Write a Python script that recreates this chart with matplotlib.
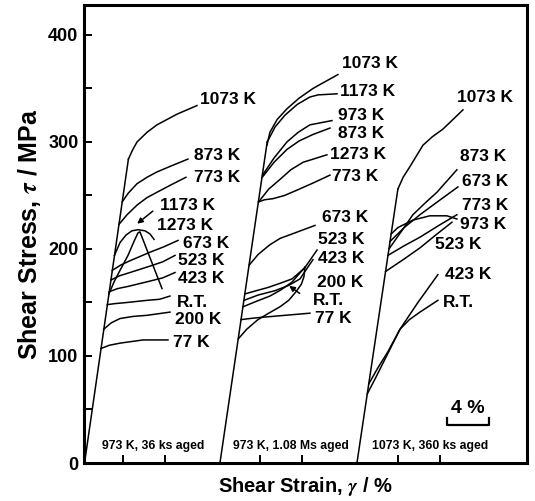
import matplotlib
matplotlib.use('Agg')
import matplotlib.pyplot as plt
from matplotlib.ticker import MultipleLocator

plt.rcParams['font.family'] = ['Liberation Sans', 'DejaVu Sans']
plt.rcParams['font.weight'] = 'bold'
plt.rcParams['mathtext.fontset'] = 'stix'

# ---- group 1: 973 K, 36 ks aged (strain %, stress MPa) ----
g1_elastic_strain = [0.05, 4.23]
g1_elastic_stress = [0, 284]
g1_labels = ['1073 K', '873 K', '773 K', '', '', '673 K', '523 K', '423 K', 'R.T.', '200 K', '77 K']
g1_strain = [
    [4.23, 4.6, 5.05, 6.0, 6.95, 8.86, 10.76],
    [3.64, 4.2, 5.05, 6.0, 6.95, 8.4, 9.9],
    [3.33, 4.1, 5.05, 6.0, 6.95, 8.3, 9.71],
    [2.9, 3.43, 4.0, 4.57, 5.14, 5.81, 6.29, 6.67],
    [2.37, 2.9, 3.43, 4.19, 4.76, 5.14, 5.33, 7.43],
    [2.69, 3.5, 4.38, 6.29, 7.6, 8.95],
    [2.56, 3.4, 4.38, 6.29, 7.5, 8.67],
    [2.4, 3.2, 4.19, 6.29, 7.5, 8.67],
    [2.22, 3.0, 4.1, 6.0, 7.2, 8.19],
    [1.88, 2.6, 3.43, 4.7, 6.0, 8.19],
    [1.62, 2.4, 3.43, 5.62, 8.0],
]
g1_stress = [
    [284, 292, 300, 309, 316, 326, 334],
    [244, 252, 261, 267, 272, 278, 284],
    [223, 232, 241, 248, 253, 260, 267],
    [194, 206, 213, 217, 218, 217, 214, 209],
    [158, 170, 180, 194, 207, 215, 216, 163],
    [180, 185, 189, 197, 202, 208],
    [171, 175, 178, 184, 188, 194],
    [160, 163, 165, 170, 173, 178],
    [148, 149, 150, 152, 153, 156],
    [125, 131, 135, 137, 138, 141],
    [107, 110, 112, 115, 115],
]
g1_label_x = [11.05, 10.48, 10.48, 0, 0, 9.43, 8.95, 8.95, 8.86, 8.67, 8.48]
g1_label_y = [340, 287, 267, 0, 0, 205, 189, 172, 150, 134, 113]

# ---- group 2: 973 K, 1.08 Ms aged ----
g2_elastic_strain = [12.95, 17.45]
g2_elastic_stress = [0, 300]
g2_labels = ['1073 K', '1173 K', '973 K', '873 K', '1273 K', '773 K',
             '673 K', '523 K', '423 K', '200 K', '', '77 K']
g2_strain = [
    [17.43, 17.71, 18.4, 19.33, 20.5, 21.81, 24.19],
    [17.45, 18.2, 19.14, 20.3, 21.52, 22.29, 24.1],
    [17.01, 18.1, 19.33, 20.4, 21.52, 23.62],
    [16.98, 18.1, 19.33, 20.5, 21.81, 23.43],
    [16.63, 17.6, 18.67, 19.7, 20.86, 23.14],
    [16.63, 17.2, 18.0, 19.1, 20.29, 21.9, 23.43],
    [15.74, 16.6, 17.71, 18.7, 19.81, 22.0],
    [15.33, 16.4, 17.52, 18.7, 19.81, 21.0, 22.2],
    [15.24, 16.6, 18.19, 19.5, 20.57, 21.81],
    [15.15, 16.4, 17.71, 18.8, 19.81, 21.05],
    [14.7, 15.5, 16.57, 17.6, 18.67, 19.5, 20.19, 20.7, 20.95, 21.05],
    [14.97, 15.8, 16.76, 19.14, 21.52],
]
g2_stress = [
    [297, 309, 321, 331, 341, 350, 363],
    [300, 314, 325, 335, 342, 344, 345],
    [269, 285, 300, 309, 316, 320],
    [267, 281, 293, 301, 307, 313],
    [244, 256, 265, 274, 281, 288],
    [244, 246, 247, 250, 255, 262, 269],
    [185, 195, 204, 210, 214, 222],
    [158, 161, 164, 168, 172, 182, 199],
    [152, 157, 161, 166, 172, 190],
    [146, 151, 156, 162, 169, 183],
    [116, 125, 134, 140, 146, 152, 160, 167, 174, 183],
    [134, 135, 136, 138, 140],
]
g2_label_x = [24.57, 24.38, 24.19, 24.19, 23.43, 23.6, 22.67, 22.29, 22.29, 22.19, 0, 22.0]
g2_label_y = [373, 347, 325, 308, 288, 268, 229, 209, 191, 169, 0, 135]

# ---- group 3: 1073 K, 360 ks aged ----
g3_elastic_strain = [26.0, 29.9]
g3_elastic_stress = [0, 256]
g3_labels = ['1073 K', '873 K', '673 K', '773 K', '973 K', '523 K', '423 K', 'R.T.']
g3_strain = [
    [29.9, 30.4, 31.05, 32.29, 33.2, 34.19, 36.1],
    [29.05, 30.2, 31.33, 32.5, 33.62, 35.52],
    [29.15, 30.5, 32.0, 33.8, 35.62],
    [28.95, 30.5, 32.0, 33.8, 35.52],
    [29.26, 29.9, 31.33, 32.95, 34.57, 35.52],
    [28.73, 30.4, 32.0, 33.5, 35.05],
    [26.98, 27.8, 28.67, 30.1, 31.81, 33.71],
    [27.13, 28.0, 28.95, 30.1, 31.0, 32.0, 33.71],
]
g3_stress = [
    [256, 267, 277, 297, 305, 312, 330],
    [200, 216, 232, 243, 253, 274],
    [207, 220, 232, 245, 258],
    [194, 203, 211, 222, 232],
    [214, 220, 227, 231, 231, 228],
    [179, 190, 201, 213, 225],
    [64.5, 80, 97, 125, 150, 176],
    [74, 89, 104, 125, 134, 141, 152],
]
g3_label_x = [35.5, 35.8, 36.0, 36.0, 35.8, 33.43, 34.38, 34.19]
g3_label_y = [342, 286, 263, 241, 223, 204, 176, 150]

condition_labels = ['973 K, 36 ks aged', '973 K, 1.08 Ms aged', '1073 K, 360 ks aged']
condition_x = [6.57, 19.76, 32.95]
strain_ticks = [3.7, 7.7, 16.8, 20.8, 29.9, 33.9]

LABEL_FS = 12.5

fig = plt.figure(figsize=(5.35, 5.01), dpi=100)
ax = fig.add_axes([84 / 535, 38 / 501, 443 / 535, 458 / 501])

groups = [
    (g1_elastic_strain, g1_elastic_stress, g1_labels, g1_strain, g1_stress, g1_label_x, g1_label_y),
    (g2_elastic_strain, g2_elastic_stress, g2_labels, g2_strain, g2_stress, g2_label_x, g2_label_y),
    (g3_elastic_strain, g3_elastic_stress, g3_labels, g3_strain, g3_stress, g3_label_x, g3_label_y),
]
for es, et, labels, xs, ys, lx, ly in groups:
    ax.plot(es, et, color='black', lw=1.1)
    for lab, x, y, tx, ty in zip(labels, xs, ys, lx, ly):
        ax.plot(x, y, color='black', lw=1.1)
        if lab:
            ax.text(tx, ty, lab, ha='left', va='center', fontsize=LABEL_FS, fontweight='bold')

# labels with arrows in group 1 and group 2
ax.text(7.24, 241, '1173 K', ha='left', va='center', fontsize=LABEL_FS, fontweight='bold')
ax.annotate('', xy=(4.86, 222), xytext=(6.76, 237),
            arrowprops=dict(arrowstyle='-|>', lw=1.1, color='black', mutation_scale=8))
ax.text(6.95, 222, '1273 K', ha='left', va='center', fontsize=LABEL_FS, fontweight='bold')
ax.text(21.8, 152, 'R.T.', ha='left', va='center', fontsize=LABEL_FS, fontweight='bold')
ax.annotate('', xy=(19.33, 167), xytext=(20.76, 157),
            arrowprops=dict(arrowstyle='-|>', lw=1.1, color='black', mutation_scale=8))

for lab, x in zip(condition_labels, condition_x):
    ax.text(x, 16, lab, ha='center', va='center', fontsize=8.8, fontweight='bold')

# 4 % scale bar
ax.plot([34.6, 34.6, 38.6, 38.6], [42, 35.5, 35.5, 42], color='black', lw=1.6)
ax.text(36.6, 51, '4 %', ha='center', va='center', fontsize=14, fontweight='bold')

ax.set_xlim(0, 42.2)
ax.set_ylim(0, 428)
ax.set_xticks(strain_ticks)
ax.set_xticklabels([])
ax.yaxis.set_major_locator(MultipleLocator(100))
ax.yaxis.set_minor_locator(MultipleLocator(50))
ax.tick_params(axis='both', which='both', direction='in', length=6, width=1.4)
ax.tick_params(axis='y', labelsize=13, pad=4)
for lab in ax.get_yticklabels():
    lab.set_fontweight('bold')
for sp in ax.spines.values():
    sp.set_linewidth(2.2)

ax.set_ylabel(r'Shear Stress, $\tau$ / MPa', fontsize=18, fontweight='bold', labelpad=4)
ax.set_xlabel(r'Shear Strain, $\gamma$ / %', fontsize=14.5, fontweight='bold', labelpad=5)

fig.savefig('out.png', dpi=100)
